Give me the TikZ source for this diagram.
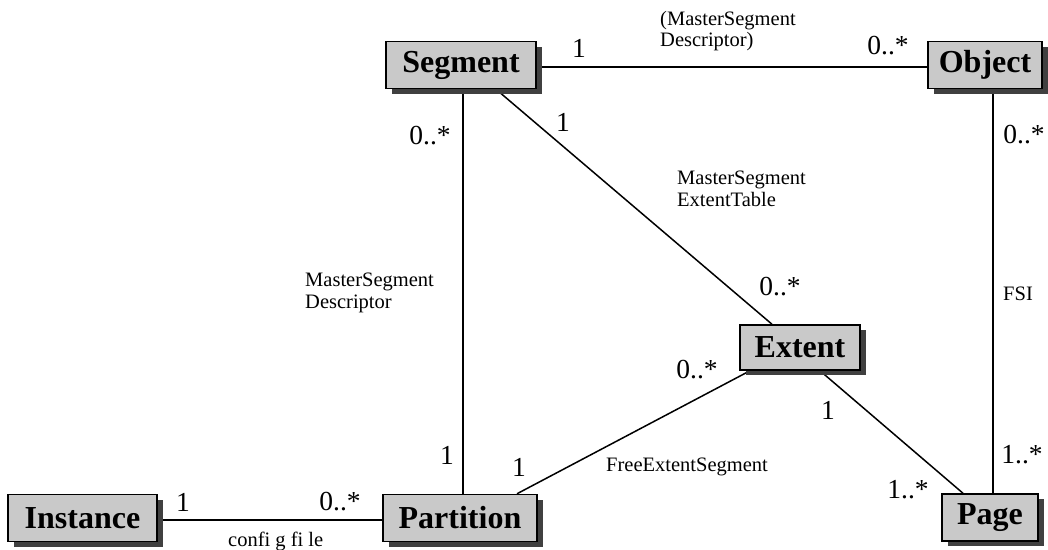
\documentclass[tikz,border=0pt]{standalone}
\usepackage{fontspec}
\setmainfont{Liberation Serif}
\usetikzlibrary{shadows}
\pgfdeclarelayer{bg}
\pgfsetlayers{bg,main}
\begin{document}
\begin{tikzpicture}[x=1pt,y=-1pt,
  entity/.style={draw=black, line width=1.5pt, fill=black!21, minimum height=47pt,
    inner sep=0pt, font=\fontsize{32}{36}\selectfont\bfseries,
    drop shadow={shadow xshift=6pt, shadow yshift=-5pt, fill=black!75, opacity=1}},
  mult/.style={inner sep=0pt, font=\fontsize{27.5}{30}\selectfont},
  role/.style={inner sep=0pt, align=left, anchor=north west, font=\fontsize{20.5}{21.5}\selectfont},
  link/.style={line width=1.5pt}]
\useasboundingbox (0,0) rectangle (1048,549);

% classes
\node[entity, minimum width=150pt] (seg)  at (461,65)    {Segment};
\node[entity, minimum width=114pt] (obj)  at (985,65)    {Object};
\node[entity, minimum width=149pt] (inst) at (82.5,518)  {Instance};
\node[entity, minimum width=154pt] (part) at (460,518)   {Partition};
\node[entity, minimum width=120pt, minimum height=45pt] (ext) at (800,347.5) {Extent};
\node[entity, minimum width=96pt]  (page) at (990,517.5) {Page};

% associations
\begin{pgfonlayer}{bg}
\draw[link] ([yshift=-2pt]seg.east) -- ([yshift=-2pt]obj.west);
\draw[link] ([xshift=2pt]seg.south) -- ([xshift=3pt]part.north);
\draw[link] ([xshift=35pt]seg.south) -- ([xshift=-28pt]ext.north);
\draw[link] ([xshift=8pt]obj.south) -- ([xshift=3pt]page.north);
\draw[link] ([xshift=57pt]part.north) -- ([xshift=-50pt]ext.south);
\draw[link] ([xshift=20pt]ext.south) -- ([xshift=-27pt]page.north);
\draw[link] ([yshift=-2pt]inst.east) -- ([yshift=-2pt]part.west);
\end{pgfonlayer}

% multiplicities
\node[mult] (m1)  at (579,48)   {1};
\node[mult] (m2)  at (888,46)   {0..*};
\node[mult] (m3)  at (430,136)  {0..*};
\node[mult] (m4)  at (563,122)  {1};
\node[mult] (m5)  at (1024,135) {0..*};
\node[mult] (m6)  at (780,287)  {0..*};
\node[mult] (m7)  at (697,370)  {0..*};
\node[mult] (m8)  at (828,410)  {1};
\node[mult] (m9)  at (447,455)  {1};
\node[mult] (m10) at (519,467)  {1};
\node[mult] (m11) at (1022,455) {1..*};
\node[mult] (m12) at (908,490)  {1..*};
\node[mult] (m13) at (183,502)  {1};
\node[mult] (m14) at (340,502)  {0..*};

% role names
\node[role] (r1) at (660,11)  {(MasterSegment\\Descriptor)};
\node[role] (r2) at (677,171) {MasterSegment\\ExtentTable};
\node[role] (r3) at (305,273) {MasterSegment\\Descriptor};
\node[role] (r4) at (1003,287) {FSI};
\node[role] (r5) at (606,458) {FreeExtentSegment};
\node[role] (r6) at (228,532) {confi g fi le};
\end{tikzpicture}
\end{document}
